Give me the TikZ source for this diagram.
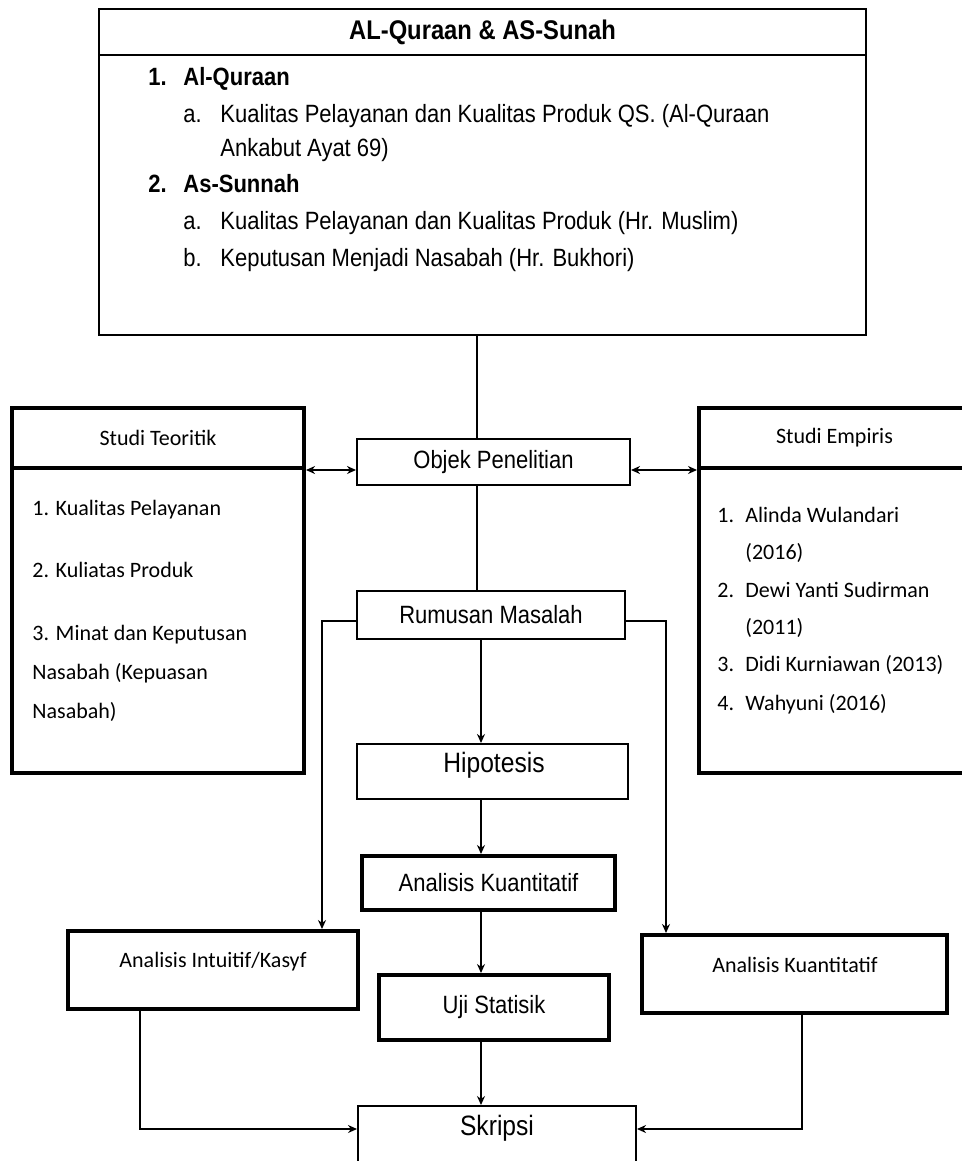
\documentclass[tikz,border=0pt]{standalone}
\usepackage{fontspec}
\newfontfamily\arialn[FakeStretch=0.88]{Liberation Sans}
\newfontfamily\calib{Carlito}
\usetikzlibrary{arrows.meta}

\tikzset{
  thinbox/.style={draw, line width=1pt, inner sep=0pt, font=\arialn\fontsize{12.5}{15}\selectfont},
  thickbox/.style={draw, line width=2pt, inner sep=0pt, font=\arialn\fontsize{12.5}{15}\selectfont},
  txt/.style={inner sep=0pt, anchor=base west, font=\arialn\fontsize{12.5}{15}\selectfont},
  ctxt/.style={inner sep=0pt, anchor=base west, font=\calib\fontsize{11}{13}\selectfont},
  link/.style={line width=0.9pt},
  >={Stealth[length=4.5pt,width=4pt]}
}

\begin{document}
\begin{tikzpicture}[x=0.5pt, y=-0.5pt]
        \useasboundingbox (0,0) rectangle (962,1161);

        % sumber: Al-Quraan dan As-Sunah
        \node [thinbox, minimum width=383.5pt, minimum height=23pt, font=\arialn\bfseries\fontsize{13.5}{16}\selectfont] (tophead) at (482.5,32) {AL-Quraan \& AS-Sunah};
        \node [thinbox, minimum width=383.5pt, minimum height=140pt] (topbody) at (482.5,195) {};
        \node [txt, font=\arialn\bfseries\fontsize{12.5}{15}\selectfont] (qn1) at (148,86)  {1.};
        \node [txt, font=\arialn\bfseries\fontsize{12.5}{15}\selectfont] (q1)  at (183,86)  {Al-Quraan};
        \node [txt] (qa1) at (183,122) {a.};
        \node [txt] (q1a) at (220,122) {Kualitas Pelayanan dan Kualitas Produk QS. (Al-Quraan};
        \node [txt] (q1b) at (220,156) {Ankabut Ayat 69)};
        \node [txt, font=\arialn\bfseries\fontsize{12.5}{15}\selectfont] (qn2) at (148,192) {2.};
        \node [txt, font=\arialn\bfseries\fontsize{12.5}{15}\selectfont] (q2)  at (183,192) {As-Sunnah};
        \node [txt] (qa2) at (183,229) {a.};
        \node [txt] (q2a) at (220,229) {Kualitas Pelayanan dan Kualitas Produk (Hr. Muslim)};
        \node [txt] (qb2) at (183,266) {b.};
        \node [txt] (q2b) at (220,266) {Keputusan Menjadi Nasabah (Hr. Bukhori)};

        % studi teoritik
        \node [thickbox, minimum width=146pt, minimum height=30pt, font=\calib\fontsize{11}{13}\selectfont] (teohead) at (158,438) {Studi Teoritik};
        \node [thickbox, minimum width=146pt, minimum height=152.5pt] (teobody) at (158,620.5) {};
        \node [ctxt] (teo1)  at (32,515) {1. Kualitas Pelayanan};
        \node [ctxt] (teo2)  at (32,577) {2. Kuliatas Produk};
        \node [ctxt] (teo3)  at (32,640) {3. Minat dan Keputusan};
        \node [ctxt] (teo3b) at (32,679) {Nasabah (Kepuasan};
        \node [ctxt] (teo3c) at (32,718) {Nasabah)};

        % studi empiris
        \node [thickbox, minimum width=135.5pt, minimum height=30pt, font=\calib\fontsize{11}{13}\selectfont] (emphead) at (834.5,438) {Studi Empiris};
        \node [thickbox, minimum width=135.5pt, minimum height=152.5pt] (empbody) at (834.5,620.5) {};
        \node [ctxt] (en1) at (717,522) {1.};
        \node [ctxt] (e1)  at (745,522) {Alinda Wulandari};
        \node [ctxt] (e1b) at (745,559) {(2016)};
        \node [ctxt] (en2) at (717,597) {2.};
        \node [ctxt] (e2)  at (745,597) {Dewi Yanti Sudirman};
        \node [ctxt] (e2b) at (745,634) {(2011)};
        \node [ctxt] (en3) at (717,671) {3.};
        \node [ctxt] (e3)  at (745,671) {Didi Kurniawan (2013)};
        \node [ctxt] (en4) at (717,710) {4.};
        \node [ctxt] (e4)  at (745,710) {Wahyuni (2016)};

        % alur tengah
        \node [thinbox, minimum width=136.5pt, minimum height=23pt] (objek) at (493.5,462) {Objek Penelitian};
        \node [thinbox, minimum width=134pt, minimum height=24pt] (rumusan) at (491,615) {Rumusan Masalah};
        \node [thinbox, minimum width=135.5pt, minimum height=27.5pt] (hipotesis) at (492.5,771.5) {};
        \node [txt, anchor=base, font=\arialn\fontsize{14}{16}\selectfont] (hiptext) at (494,772) {Hipotesis};
        \node [thickbox, minimum width=126.5pt, minimum height=27pt] (kuant) at (488.5,883) {Analisis Kuantitatif};
        \node [thickbox, minimum width=115pt, minimum height=32.5pt] (uji) at (494,1007.5) {Uji Statisik};
        \node [thinbox, minimum width=139pt, minimum height=42pt] (skripsi) at (497,1148) {};
        \node [txt, anchor=base, font=\arialn\fontsize{14}{16}\selectfont] (skritext) at (497,1135) {Skripsi};

        % analisis samping
        \node [thickbox, minimum width=145pt, minimum height=39pt] (intuitif) at (213,970) {};
        \node [ctxt, anchor=base] (inttext) at (213,967) {Analisis Intuitif/Kasyf};
        \node [thickbox, minimum width=152.5pt, minimum height=39pt] (kuanr) at (794.5,974) {};
        \node [ctxt, anchor=base] (kuanrtext) at (795,972) {Analisis Kuantitatif};

        \coordinate (spine) at (477,0);
        \coordinate (axis)  at (481,0);
        \coordinate (lcol)  at (322,0);
        \coordinate (rcol)  at (666,0);
        \coordinate (llow)  at (140,0);
        \coordinate (rlow)  at (802,0);
        \coordinate (sk)    at (0,1129);

        \draw [link] (spine |- topbody.south) -- (spine |- objek.north);
        \draw [link] (spine |- objek.south) -- (spine |- rumusan.north);
        \draw [link, <->] (teohead.south east) -- (teohead.south east -| objek.west);
        \draw [link, <->] (objek.east |- emphead.south west) -- (emphead.south west);
        \draw [link, ->] ([yshift=-3pt]rumusan.west) -| (lcol |- intuitif.north);
        \draw [link, ->] ([yshift=-3pt]rumusan.east) -| (rcol |- kuanr.north);
        \draw [link, ->] (axis |- rumusan.south) -- (axis |- hipotesis.north);
        \draw [link, ->] (axis |- hipotesis.south) -- (axis |- kuant.north);
        \draw [link, ->] (axis |- kuant.south) -- (axis |- uji.north);
        \draw [link, ->] (axis |- uji.south) -- (axis |- skripsi.north);
        \draw [link, ->] (llow |- intuitif.south) |- (skripsi.west |- sk);
        \draw [link, ->] (rlow |- kuanr.south) |- (skripsi.east |- sk);
\end{tikzpicture}
\end{document}
